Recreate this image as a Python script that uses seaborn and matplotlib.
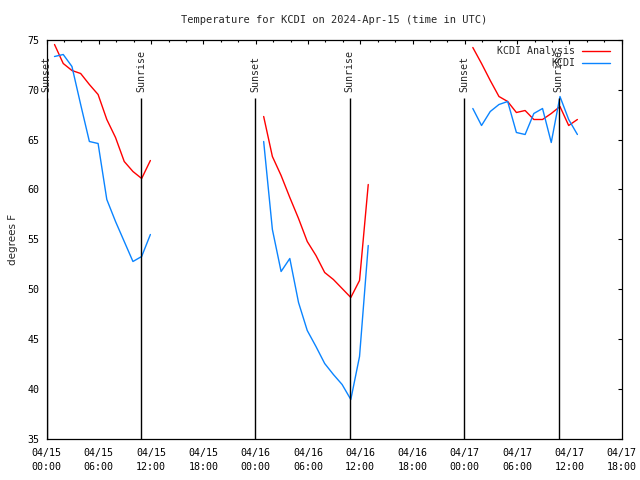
"""Importing libraries"""
import pandas as pd
import numpy as np
import matplotlib
matplotlib.use('Agg')
import matplotlib.pyplot as plt
import matplotlib.dates as mdates
from matplotlib.ticker import MultipleLocator, NullLocator
import seaborn as sns

"""values read off the chart (hourly obs at :55)"""
series_names = ['KCDI Analysis', 'KCDI']
series_colors = ['#ff0000', '#0a84ff']

day_starts = ['2024-04-15 00:55', '2024-04-16 00:55', '2024-04-17 00:55']

analysis_day1 = [74.5, 72.6, 71.9, 71.6, 70.5, 69.5, 67.0, 65.2, 62.8, 61.8, 61.1, 62.9]
kcdi_day1 = [73.3, 73.5, 72.3, 68.5, 64.8, 64.6, 59.0, 56.8, 54.8, 52.8, 53.3, 55.5]

analysis_day2 = [67.3, 63.3, 61.4, 59.2, 57.1, 54.8, 53.4, 51.7, 51.0, 50.1, 49.2, 50.9, 60.5]
kcdi_day2 = [64.8, 56.0, 51.8, 53.1, 48.7, 45.9, 44.3, 42.6, 41.5, 40.5, 39.0, 43.3, 54.4]

analysis_day3 = [74.2, 72.6, 70.9, 69.3, 68.8, 67.7, 67.9, 67.0, 67.0, 67.6, 68.3, 66.4, 67.0]
kcdi_day3 = [68.1, 66.4, 67.8, 68.5, 68.8, 65.7, 65.5, 67.6, 68.1, 64.7, 69.3, 67.0, 65.5]

sunset_times = ['2024-04-15 00:00', '2024-04-15 23:56', '2024-04-16 23:57']
sunrise_times = ['2024-04-15 10:53', '2024-04-16 10:46', '2024-04-17 10:46']

"""build a long table for seaborn"""
parts = []
days = [(analysis_day1, kcdi_day1), (analysis_day2, kcdi_day2), (analysis_day3, kcdi_day3)]
for i, (ana, obs) in enumerate(days):
    times = pd.date_range(day_starts[i], periods=len(ana), freq='h')
    parts.append(pd.DataFrame({'time': times, 'temp': ana, 'series': series_names[0], 'day': i}))
    parts.append(pd.DataFrame({'time': times, 'temp': obs, 'series': series_names[1], 'day': i}))
df = pd.concat(parts, ignore_index=True)

sns.set_style('white')
plt.rcParams['font.family'] = ['DejaVu Sans Mono']
plt.rcParams['font.size'] = 7.2

fig = plt.figure(figsize=(6.4, 4.8), dpi=100)
ax = fig.add_axes([0.0727, 0.0844, 0.8987, 0.8333])

sns.lineplot(data=df, x='time', y='temp', hue='series', units='day', estimator=None,
             hue_order=series_names, palette=dict(zip(series_names, series_colors)),
             linewidth=1.0, ax=ax)

# sunrise / sunset markers
for label, tlist in [('Sunset', sunset_times), ('Sunrise', sunrise_times)]:
    for t in tlist:
        xt = mdates.date2num(pd.Timestamp(t))
        ax.vlines(xt, 35, 69.15, color='black', linewidth=1.0)
        ax.text(xt, 69.75, label, rotation=90, ha='center', va='bottom',
                fontsize=7.2, clip_on=False)

ax.set_xlim(pd.Timestamp('2024-04-15 00:00'), pd.Timestamp('2024-04-17 18:00'))
ax.set_ylim(35, 75)

ax.xaxis.set_major_locator(mdates.HourLocator(byhour=[0, 6, 12, 18]))
ax.xaxis.set_minor_locator(mdates.HourLocator(byhour=range(0, 24, 2)))
ax.xaxis.set_major_formatter(mdates.DateFormatter('%m/%d\n%H:%M'))
ax.yaxis.set_major_locator(MultipleLocator(5))
ax.yaxis.set_minor_locator(NullLocator())

ax.tick_params(which='both', direction='in', top=True, right=True, colors='black',
               labelsize=7.2, width=0.8)
ax.tick_params(which='major', length=3)
ax.tick_params(which='minor', length=1.5)
ax.tick_params(axis='x', pad=6)
ax.tick_params(axis='y', pad=5)
for lab in ax.get_xticklabels():
    lab.set_linespacing(1.5)

for sp in ax.spines.values():
    sp.set_color('black')
    sp.set_linewidth(0.9)

ax.set_xlabel('')
ax.set_ylabel('degrees F', fontsize=7.5, labelpad=7, family=['DejaVu Sans'])
ax.set_title('Temperature for KCDI on 2024-Apr-15 (time in UTC)', fontsize=7.5, pad=12)

handles, labels = ax.get_legend_handles_labels()
ax.legend(handles, labels, loc='upper right', bbox_to_anchor=(0.9797, 0.983),
          markerfirst=False, frameon=False, borderpad=0, borderaxespad=0,
          handlelength=2.8, handletextpad=0.7, labelspacing=0.2, fontsize=7.2)

fig.savefig('out.png', dpi=100)
